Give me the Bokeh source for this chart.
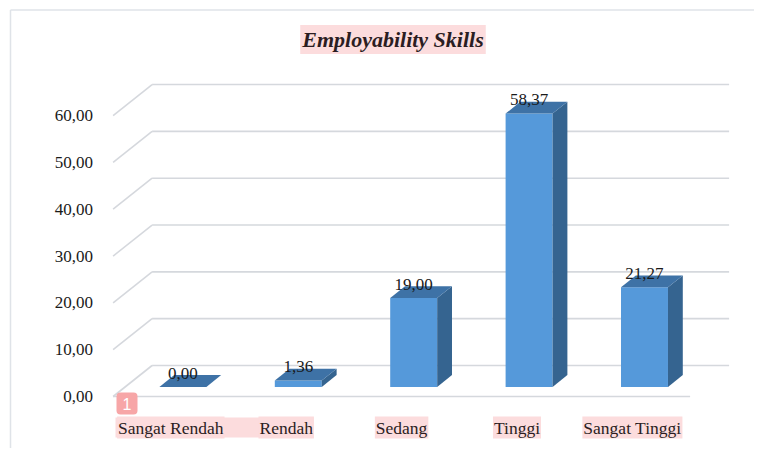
from bokeh.plotting import figure
from bokeh.models import Range1d, Label
from bokeh.core.properties import value
from bokeh.embed import file_html
from bokeh.resources import INLINE

# ---- data ----
categories = ["Sangat Rendah", "Rendah", "Sedang", "Tinggi", "Sangat Tinggi"]
values = [0.00, 1.36, 19.00, 58.37, 21.27]
y_ticks = [0, 10, 20, 30, 40, 50, 60]
title_text = "Employability Skills"
badge_text = "1"

# ---- layout constants (pixels) ----
W, H = 754, 448
X0, XS = 170.3, 115.4      # px of category 0 (front plane), px per category
Y0, YS = 396.0, 4.683      # px of value 0 (front plane), px per unit
DEPTH_X = 39 / XS
DEPTH_Y = 31 / YS
F0, F1 = 0.31, 0.69        # bar depth span (fraction of floor depth)
HW = 0.2035                # half bar width (category units)

SERIF = value("Liberation Serif")
PINK = "#fcdcdd"
GRID = "#d5d8dd"
FRONT = "#5599da"
SIDE = "#356490"
TOP = "#3e72a6"


def px_x(px):
    return (px - X0) / XS


def px_y(py):
    return (Y0 - py) / YS


p = figure(width=W, height=H, output_backend="svg", toolbar_location=None,
           x_range=Range1d(px_x(0), px_x(W)), y_range=Range1d(px_y(H), px_y(0)),
           x_axis_location=None, y_axis_location=None, min_border=0)
p.grid.visible = False
p.outline_line_color = None
p.background_fill_color = "white"
p.border_fill_color = "white"

# outer chart-area border
p.segment(x0=[px_x(10), px_x(10)], y0=[px_y(9.5), px_y(9.5)],
          x1=[px_x(10), px_x(W)], y1=[px_y(H), px_y(9.5)],
          line_color="#dfe3e8", line_width=1.5)

n = len(categories)
left_edge = -0.5
right_edge = n - 0.5

# back wall gridlines + left wall diagonals
gx, gy = [], []
for t in y_ticks:
    gx.append([left_edge + DEPTH_X, right_edge + DEPTH_X])
    gy.append([t + DEPTH_Y, t + DEPTH_Y])
    gx.append([left_edge, left_edge + DEPTH_X])
    gy.append([t, t + DEPTH_Y])
# floor front edge
gx.append([left_edge, right_edge])
gy.append([0, 0])
p.multi_line(xs=gx, ys=gy, line_color=GRID, line_width=1.6)

# bars
fl, fr, fb, ft = [], [], [], []
sx, sy, tx, ty = [], [], [], []
for i, v in enumerate(values):
    a0 = i - HW
    a1 = i + HW
    fl.append(a0 + F0 * DEPTH_X)
    fr.append(a1 + F0 * DEPTH_X)
    fb.append(F0 * DEPTH_Y)
    ft.append(v + F0 * DEPTH_Y)
    sx.append([a1 + F0 * DEPTH_X, a1 + F1 * DEPTH_X, a1 + F1 * DEPTH_X, a1 + F0 * DEPTH_X])
    sy.append([F0 * DEPTH_Y, F1 * DEPTH_Y, v + F1 * DEPTH_Y, v + F0 * DEPTH_Y])
    tx.append([a0 + F0 * DEPTH_X, a1 + F0 * DEPTH_X, a1 + F1 * DEPTH_X, a0 + F1 * DEPTH_X])
    ty.append([v + F0 * DEPTH_Y, v + F0 * DEPTH_Y, v + F1 * DEPTH_Y, v + F1 * DEPTH_Y])

p.quad(left=fl, right=fr, bottom=fb, top=ft, fill_color=FRONT, line_color=None)
p.patches(xs=sx, ys=sy, fill_color=SIDE, line_color=None)
p.patches(xs=tx, ys=ty, fill_color=TOP, line_color=None)

# data labels
p.text(x=[i + F0 * DEPTH_X for i in range(n)],
       y=[v + F1 * DEPTH_Y + 2 / YS for v in values],
       text=[f"{v:.2f}".replace(".", ",") for v in values],
       text_font=SERIF, text_font_size="17px", text_color="#1a1a1a",
       text_align="center", text_baseline="alphabetic")

# y tick labels
p.text(x=[left_edge - 20 / XS] * len(y_ticks), y=y_ticks,
       text=[f"{t:.2f}".replace(".", ",") for t in y_ticks],
       text_font=SERIF, text_font_size="17px", text_color="#1a1a1a",
       text_align="right", text_baseline="middle")

# highlight band joining the first two category labels
cat_y = -31 / YS
p.quad(left=[px_x(115)], right=[px_x(313)],
       top=[cat_y + 10 / YS], bottom=[cat_y - 10 / YS],
       fill_color=PINK, line_color=None)

# category labels
p.text(x=list(range(n)), y=[cat_y] * n, text=categories,
       text_font=SERIF, text_font_size="17.5px", text_color="#2b1d22",
       text_align="center", text_baseline="middle",
       background_fill_color=PINK, padding=1)

# badge
p.quad(left=[px_x(116)], right=[px_x(137)],
       top=[px_y(392)], bottom=[px_y(414)],
       fill_color="#f7a6a7", line_color=None, border_radius=4)
p.text(x=[px_x(126.5)], y=[px_y(403)], text=[badge_text],
       text_font=value("Liberation Sans"), text_font_size="16px",
       text_color="white", text_align="center", text_baseline="middle")

# title
p.add_layout(Label(x=392.5, y=H - 39, x_units="screen", y_units="screen",
                   text=title_text, text_font="Liberation Serif", text_font_size="22px",
                   text_font_style="bold italic", text_color="#2b1d22",
                   text_align="center", text_baseline="middle",
                   background_fill_color=PINK, padding=2))

open("out.html", "w").write(file_html(p, INLINE))
